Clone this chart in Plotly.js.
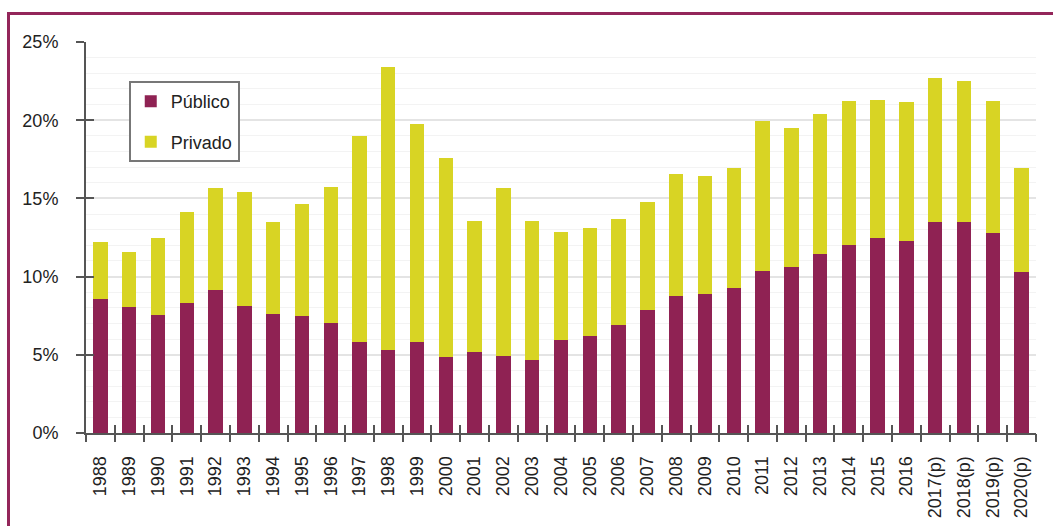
<!DOCTYPE html>
<html>
<head>
<meta charset="utf-8">
<script src="https://cdn.plot.ly/plotly-3.0.1.min.js"></script>
<style>
  html, body { margin: 0; padding: 0; background: #fff; }
  #wrap { position: relative; width: 1053px; height: 526px; overflow: hidden; }
  #chart { width: 1053px; height: 526px; }
  #frame { position: absolute; left: 7px; top: 12px; width: 1100px; height: 600px;
           border-top: 3px solid #93265a; border-left: 3px solid #93265a; pointer-events: none; }
</style>
</head>
<body>
<div id="wrap">
  <div id="chart"></div>
  <div id="frame"></div>
</div>
<script>
const years = ["1988","1989","1990","1991","1992","1993","1994","1995","1996","1997","1998","1999","2000","2001","2002","2003","2004","2005","2006","2007","2008","2009","2010","2011","2012","2013","2014","2015","2016","2017(p)","2018(p)","2019(p)","2020(p)"];
const publico = [8.57,8.06,7.54,8.31,9.14,8.12,7.61,7.48,7.03,5.82,5.31,5.82,4.86,5.20,4.94,4.69,5.97,6.22,6.88,7.88,8.78,8.89,9.29,10.36,10.63,11.45,12.04,12.45,12.28,13.47,13.47,12.77,10.27];
const total = [12.20,11.57,12.47,14.13,15.66,15.41,13.49,14.64,15.73,18.99,23.42,19.74,17.56,13.55,15.64,13.55,12.87,13.10,13.70,14.79,16.56,16.45,16.96,19.97,19.48,20.42,21.23,21.31,21.16,22.70,22.48,21.23,16.96];
const privado = total.map((t, i) => +(t - publico[i]).toFixed(2));
const yTicks = [0,5,10,15,20,25];
const yTickText = yTicks.map(v => v + "%");

const boundaries = years.map((_, i) => i - 0.5).concat([years.length - 0.5]);

const fam = "Liberation Sans, Arial, sans-serif";
const axisColor = "#555";

const data = [
  {type: "bar", name: "Público", x: years, y: publico, marker: {color: "#8f2253"}, legendgroup: "a"},
  {type: "bar", name: "Privado", x: years, y: privado, marker: {color: "#d8d424"}, legendgroup: "b"},
  // invisible helper traces so the overlay tick axes get drawn
  {type: "scatter", mode: "markers", x: [null], y: [null], xaxis: "x2", yaxis: "y2", showlegend: false, hoverinfo: "skip", marker: {opacity: 0}},
  {type: "scatter", mode: "markers", x: [null], y: [null], xaxis: "x3", yaxis: "y", showlegend: false, hoverinfo: "skip", marker: {opacity: 0}}
];

const layout = {
  width: 1053, height: 526,
  margin: {l: 86, r: 17, t: 42, b: 93},
  paper_bgcolor: "#fff", plot_bgcolor: "#fff",
  barmode: "stack", bargap: 0.5,
  font: {family: fam, size: 18, color: "#222"},
  showlegend: true,
  legend: {
    x: 0.045, y: 0.90, xanchor: "left", yanchor: "top",
    bgcolor: "#fff", bordercolor: "#777", borderwidth: 2,
    traceorder: "grouped", tracegroupgap: 14,
    font: {family: fam, size: 18, color: "#222"}
  },
  xaxis: {
    type: "category", categoryorder: "array", categoryarray: years,
    ticks: "", tickangle: -90,
    showline: true, linecolor: axisColor, linewidth: 2,
    tickfont: {family: fam, size: 18, color: "#222"},
    ticklabelstandoff: 14,
    showgrid: false, zeroline: false, fixedrange: true
  },
  xaxis2: {
    overlaying: "x", anchor: "y", type: "linear", range: [-0.5, years.length - 0.5],
    tickmode: "array", tickvals: boundaries, ticks: "outside", ticklen: 8, tickwidth: 2, tickcolor: axisColor,
    showticklabels: false, showgrid: false, zeroline: false, showline: false, fixedrange: true
  },
  xaxis3: {
    overlaying: "x", anchor: "y", type: "linear", range: [-0.5, years.length - 0.5],
    tickmode: "array", tickvals: boundaries, ticks: "inside", ticklen: 8, tickwidth: 2, tickcolor: axisColor,
    showticklabels: false, showgrid: false, zeroline: false, showline: false, fixedrange: true
  },
  yaxis: {
    range: [0, 25], tickmode: "array", tickvals: yTicks, ticktext: yTickText,
    ticks: "outside", ticklen: 8, tickwidth: 2, tickcolor: axisColor,
    showline: true, linecolor: axisColor, linewidth: 2,
    showgrid: true, gridcolor: "#e4e4e4", gridwidth: 2,
    minor: {dtick: 1, showgrid: true, gridcolor: "#f3f3f3", gridwidth: 1, ticks: ""},
    zeroline: false, ticklabelstandoff: 14,
    tickfont: {family: fam, size: 18, color: "#222"}, fixedrange: true
  },
  yaxis2: {
    overlaying: "y", anchor: "x", side: "left", range: [0, 25],
    tickmode: "array", tickvals: yTicks, ticks: "inside", ticklen: 8, tickwidth: 2, tickcolor: axisColor,
    showticklabels: false, showgrid: false, zeroline: false, showline: false, fixedrange: true
  }
};

Plotly.newPlot("chart", data, layout, {staticPlot: true, displayModeBar: false});
</script>
</body>
</html>
